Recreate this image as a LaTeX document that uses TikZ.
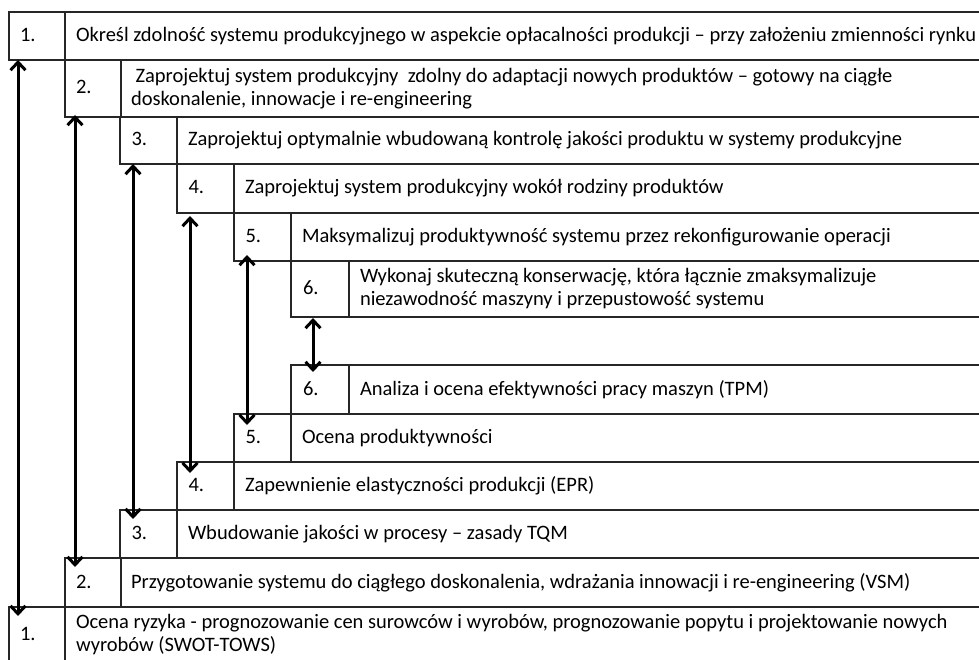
\documentclass[tikz,border=0pt]{standalone}
\usepackage{fontspec}
\setmainfont{Carlito}
\usepackage{tikz}
\usetikzlibrary{arrows.meta}

\newcommand\nrbox[1]{\makebox[34pt][l]{#1}}

\begin{document}
\begin{tikzpicture}[x=1pt, y=-1pt,
    every node/.style={font=\fontsize{20.5}{23}\selectfont},
    cell/.style={draw=black!85, line width=1.1pt, anchor=north west, outer sep=0pt,
                 inner xsep=11pt, inner ysep=0pt},
    nrcell/.style={cell, minimum width=56pt, text height=15pt, text depth=4pt},
    txcell/.style={cell, text width=1000pt, align=left,
                   execute at begin node={\spaceskip=0pt\xspaceskip=0pt\relax}},
    link/.style={line width=3pt, {Straight Barb[length=8pt,width=15pt]}-{Straight Barb[length=8pt,width=15pt]}}]

        \useasboundingbox (0,0) rectangle (979,660);
        \clip (0,0) rectangle (979,660);

        % projektowanie (od gory)
        \node[nrcell, minimum height=48pt] (num1) at (9,12) {\nrbox{1.}};
        \node[txcell, minimum height=48pt] (txt1) at (num1.north east) {Określ zdolność systemu produkcyjnego w aspekcie opłacalności produkcji – przy założeniu zmienności rynku};

        \node[nrcell, minimum height=57pt, minimum width=55pt] (num2) at (65,60) {\nrbox{2.}};
        \node[txcell, minimum height=57pt, inner xsep=10pt] (txt2) at (num2.north east) {\ Zaprojektuj system produkcyjny\ \ zdolny do adaptacji nowych produktów – gotowy na ciągłe\\doskonalenie, innowacje i re-engineering};

        \node[nrcell, minimum height=47pt, minimum width=57pt] (num3) at (120,117) {\nrbox{3.}};
        \node[txcell, minimum height=47pt] (txt3) at (num3.north east) {Zaprojektuj optymalnie wbudowaną kontrolę jakości produktu w systemy produkcyjne};

        \node[nrcell, minimum height=49pt, minimum width=57pt] (num4) at (177,164) {\nrbox{4.}};
        \node[txcell, minimum height=49pt] (txt4) at (num4.north east) {Zaprojektuj system produkcyjny wokół rodziny produktów};

        \node[nrcell, minimum height=48pt, minimum width=57pt] (num5) at (234,213) {\nrbox{5.}};
        \node[txcell, minimum height=48pt] (txt5) at (num5.north east) {Maksymalizuj produktywność systemu przez rekonfigurowanie operacji};

        \node[nrcell, minimum height=56pt, minimum width=58pt] (num6) at (291,261) {\nrbox{6.}};
        \node[txcell, minimum height=56pt] (txt6) at (num6.north east) {Wykonaj skuteczną konserwację, która łącznie zmaksymalizuje\\niezawodność maszyny i przepustowość systemu};

        % ocena (od dolu)
        \node[nrcell, minimum height=49pt, minimum width=58pt] (evn6) at (291,365) {\nrbox{6.}};
        \node[txcell, minimum height=49pt] (evt6) at (evn6.north east) {Analiza i ocena efektywności pracy maszyn (TPM)};

        \node[nrcell, minimum height=48pt, minimum width=57pt] (evn5) at (234,414) {\nrbox{5.}};
        \node[txcell, minimum height=48pt] (evt5) at (evn5.north east) {Ocena produktywności};

        \node[nrcell, minimum height=48pt, minimum width=57pt] (evn4) at (177,462) {\nrbox{4.}};
        \node[txcell, minimum height=48pt] (evt4) at (evn4.north east) {Zapewnienie elastyczności produkcji (EPR)};

        \node[nrcell, minimum height=48pt, minimum width=57pt] (evn3) at (120,510) {\nrbox{3.}};
        \node[txcell, minimum height=48pt] (evt3) at (evn3.north east) {Wbudowanie jakości w procesy – zasady TQM};

        \node[nrcell, minimum height=49pt, minimum width=55pt] (evn2) at (65,558) {\nrbox{2.}};
        \node[txcell, minimum height=49pt, inner xsep=10pt] (evt2) at (evn2.north east) {Przygotowanie systemu do ciągłego doskonalenia, wdrażania innowacji i re-engineering (VSM)};

        \node[nrcell, minimum height=56pt] (evn1) at (9,607) {\nrbox{1.}};
        \node[txcell, minimum height=56pt] (evt1) at (evn1.north east) {Ocena ryzyka - prognozowanie cen surowców i wyrobów, prognozowanie popytu i projektowanie nowych\\wyrobów (SWOT-TOWS)};

        % strzalki
        \draw[link, shorten >=-9pt] ([xshift=9pt]num1.south west) -- ([xshift=9pt]evn1.north west);
        \draw[link, shorten <=-2pt, shorten >=-9pt] ([xshift=10pt]num2.south west) -- ([xshift=10pt]evn2.north west);
        \draw[link, shorten >=-9pt] ([xshift=13pt]num3.south west) -- ([xshift=13pt]evn3.north west);
        \draw[link, shorten <=3pt, shorten >=-11pt] ([xshift=13pt]num4.south west) -- ([xshift=13pt]evn4.north west);
        \draw[link, shorten <=-6pt, shorten >=-11pt] ([xshift=13pt]num5.south west) -- ([xshift=13pt]evn5.north west);
        \draw[link, shorten <=1pt, shorten >=-7pt] ([xshift=22pt]num6.south west) -- ([xshift=22pt]evn6.north west);
    \end{tikzpicture}
\end{document}
